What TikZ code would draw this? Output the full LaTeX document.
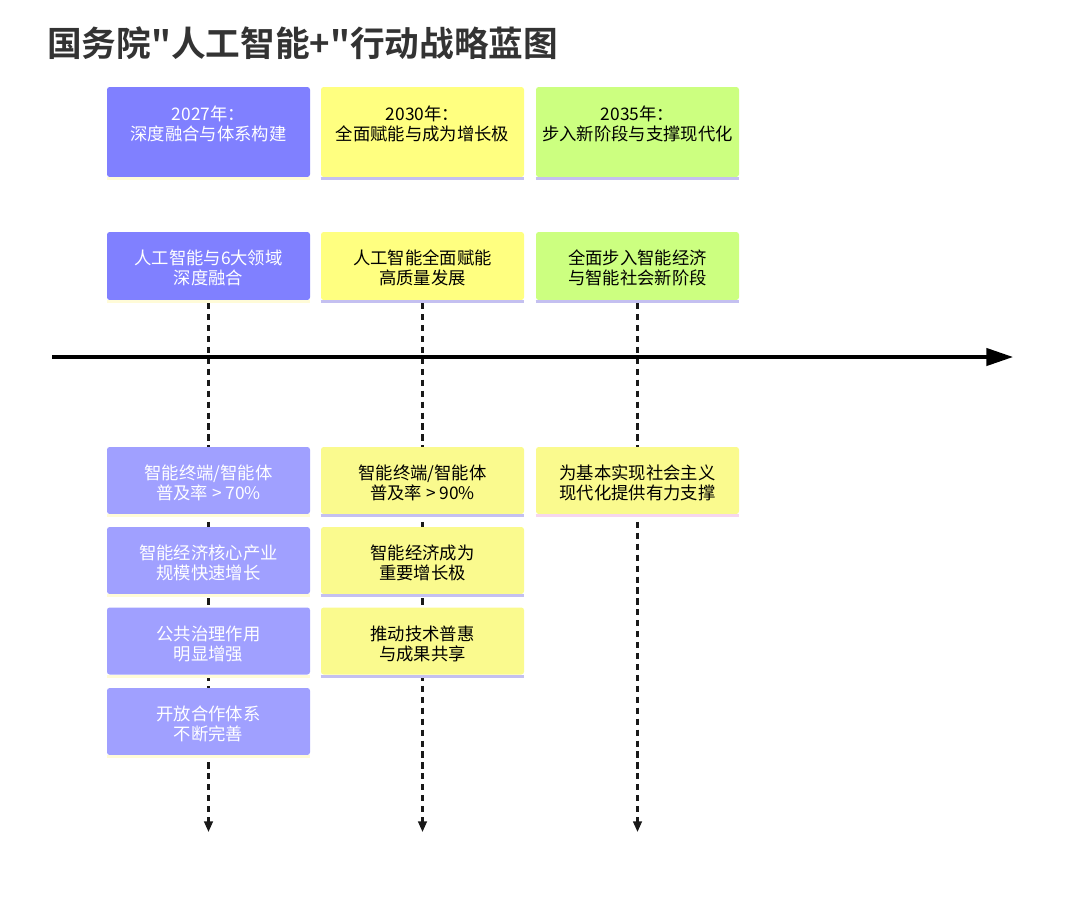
\documentclass[tikz,border=0pt]{standalone}
\usepackage{fontspec}
\newfontfamily\cjk{Noto Sans CJK SC}[BoldFont={Noto Sans CJK SC Bold}]
\usetikzlibrary{arrows.meta,backgrounds}
\definecolor{pA}{HTML}{8080FF}
\definecolor{pB}{HTML}{A0A0FF}
\definecolor{yA}{HTML}{FFFF80}
\definecolor{yB}{HTML}{FAFA8E}
\definecolor{gA}{HTML}{CCFF80}
\definecolor{lav}{HTML}{C4C0F0}
\definecolor{cre}{HTML}{FFFBD8}
\definecolor{pnk}{HTML}{F6D6EE}
\definecolor{ink}{HTML}{333333}
\begin{document}
\begin{tikzpicture}[x=0.75pt,y=-0.75pt,
  box/.style={inner sep=0pt, minimum width=152.25pt, rounded corners=2pt},
  hdrbox/.style={box, minimum height=67.5pt},
  midbox/.style={box, minimum height=51pt},
  lowbox/.style={box, minimum height=50.25pt},
  boxtxt/.style={inner sep=0pt, align=center, font=\cjk\fontsize{13}{15}\selectfont},
  stripe/.style={line width=2.2pt},
  vdash/.style={line width=1.7pt, dash pattern=on 4.6pt off 3.6pt, black!90,
    -{Triangle[length=8pt,width=6.5pt]}},
  axis/.style={line width=2.4pt, black, -{Triangle[length=20pt,width=13pt]}}
  ]
\useasboundingbox (0,0) rectangle (1080,897);

% title
\node[anchor=west, inner sep=0pt, text=ink, font=\cjk\bfseries\fontsize{26}{30}\selectfont] (title) at (47,43) {国务院"人工智能+"行动战略蓝图};

% header row
\node[hdrbox, fill=pA] (h1) at (208.5,132) {};
\node[hdrbox, fill=yA] (h2) at (422.5,132) {};
\node[hdrbox, fill=gA] (h3) at (637.5,132) {};
\node[boxtxt, text=white] (h1t) at (208.5,123.5) {2027年：\\深度融合与体系构建};
\node[boxtxt, text=black] (h2t) at (422.5,123.5) {2030年：\\全面赋能与成为增长极};
\node[boxtxt, text=black] (h3t) at (637.5,123.5) {2035年：\\步入新阶段与支撑现代化};

% second row
\node[midbox, fill=pA] (m1) at (208.5,266) {};
\node[midbox, fill=yA] (m2) at (422.5,266) {};
\node[midbox, fill=gA] (m3) at (637.5,266) {};
\node[boxtxt, text=white] (m1t) at (208.5,268) {人工智能与6大领域\\深度融合};
\node[boxtxt, text=black] (m2t) at (422.5,268) {人工智能全面赋能\\高质量发展};
\node[boxtxt, text=black] (m3t) at (637.5,268) {全面步入智能经济\\与智能社会新阶段};

% lower boxes
\node[lowbox, fill=pB] (a1) at (208.5,480.5) {};
\node[lowbox, fill=pB] (a2) at (208.5,560.5) {};
\node[lowbox, fill=pB] (a3) at (208.5,641) {};
\node[lowbox, fill=pB] (a4) at (208.5,721.5) {};
\node[lowbox, fill=yB] (b1) at (422.5,480.5) {};
\node[lowbox, fill=yB] (b2) at (422.5,560.5) {};
\node[lowbox, fill=yB] (b3) at (422.5,641) {};
\node[lowbox, fill=yB] (c1) at (637.5,480.5) {};
\node[boxtxt, text=white] (a1t) at (208.5,483) {智能终端/智能体\\普及率 > 70\%};
\node[boxtxt, text=white] (a2t) at (208.5,563) {智能经济核心产业\\规模快速增长};
\node[boxtxt, text=white] (a3t) at (208.5,643.5) {公共治理作用\\明显增强};
\node[boxtxt, text=white] (a4t) at (208.5,724) {开放合作体系\\不断完善};
\node[boxtxt, text=black] (b1t) at (422.5,483) {智能终端/智能体\\普及率 > 90\%};
\node[boxtxt, text=black] (b2t) at (422.5,563) {智能经济成为\\重要增长极};
\node[boxtxt, text=black] (b3t) at (422.5,643.5) {推动技术普惠\\与成果共享};
\node[boxtxt, text=black] (c1t) at (637.5,483) {为基本实现社会主义\\现代化提供有力支撑};

% bottom stripes
\foreach \n/\c in {h1/cre,h2/lav,h3/lav,m1/cre,m2/lav,m3/lav,a1/cre,a2/cre,a3/cre,a4/cre,b1/lav,b2/lav,b3/lav,c1/pnk}{
  \draw[stripe, \c] ([yshift=-1.1pt]\n.south west) -- ([yshift=-1.1pt]\n.south east);
}

% axis
\coordinate (axs) at (52,357);
\coordinate (axe) at (1013,357);
\draw[axis] (axs) -- (axe);

% dashed timelines
\coordinate (e1) at (208.5,832);
\coordinate (e2) at (422.5,832);
\coordinate (e3) at (637.5,832);
\begin{scope}[on background layer]
\draw[vdash] ([yshift=-2.2pt]m1.south) -- (e1);
\draw[vdash] ([yshift=-2.2pt]m2.south) -- (e2);
\draw[vdash] ([yshift=-2.2pt]m3.south) -- (e3);
\end{scope}
\end{tikzpicture}
\end{document}
